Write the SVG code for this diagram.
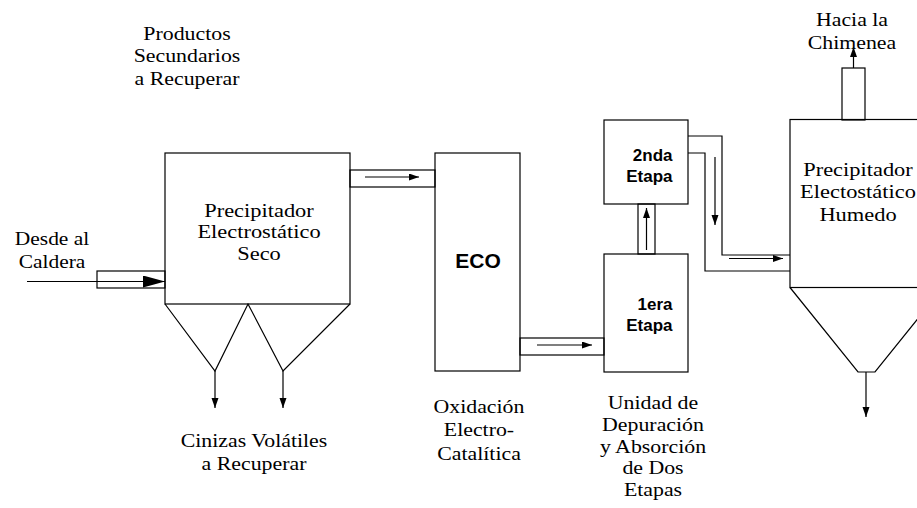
<svg xmlns="http://www.w3.org/2000/svg" width="917" height="508" viewBox="0 0 917 508">
<style>
.s{fill:none;stroke:#000;stroke-width:1.2}
.b{fill:#fff;stroke:#000;stroke-width:1.2}
.t{font-family:"Liberation Serif","Times New Roman",serif;font-size:19.5px;fill:#000;text-anchor:middle}
.h{font-family:"Liberation Sans",Arial,sans-serif;font-weight:bold;fill:#000}
.a{fill:none;stroke:#000;stroke-width:1.2;marker-end:url(#ar)}
</style>
<defs>
<marker id="ar" markerUnits="userSpaceOnUse" markerWidth="11" markerHeight="8" refX="10" refY="3.5" orient="auto"><path d="M0,0 L10,3.5 L0,7 z" fill="#000"/></marker>
<marker id="big" markerUnits="userSpaceOnUse" markerWidth="23" markerHeight="13" refX="22" refY="6" orient="auto"><path d="M0,0 L22,6 L0,12 z" fill="#000"/></marker>
</defs>
<rect width="917" height="508" fill="#fff"/>

<g id="connectors">
  <rect class="b" x="97" y="271" width="68" height="17"/>
  <line x1="27" y1="281.5" x2="165" y2="281.5" stroke="#000" stroke-width="1.2" marker-end="url(#big)"/>
  <rect class="b" x="350" y="170" width="85" height="17"/>
  <line class="a" x1="365" y1="177" x2="419" y2="177"/>
  <rect class="b" x="520" y="338" width="84" height="17"/>
  <line class="a" x1="537" y1="345" x2="592" y2="345"/>
  <rect class="b" x="638" y="204" width="17" height="50"/>
  <line class="a" x1="646.5" y1="250" x2="646.5" y2="208"/>
  <path class="s" d="M688,136 H722 V255 H790 M688,153 H705 V271 H790"/>
  <line class="a" x1="715" y1="157" x2="715" y2="225"/>
  <line class="a" x1="729" y1="258.5" x2="783" y2="258.5"/>
  <line class="a" x1="215" y1="371" x2="215" y2="408"/>
  <line class="a" x1="283" y1="371" x2="283" y2="408"/>
  <rect class="b" x="842" y="68" width="23" height="52"/>
  <line class="a" x1="853.5" y1="68" x2="853.5" y2="47"/>
  <line class="a" x1="866" y1="372" x2="866" y2="417"/>
</g>

<g id="dry-esp">
  <rect class="s" x="165" y="153" width="185" height="151"/>
  <path class="s" d="M165,304 L215,371 L248,304 L283,371 L350,304"/>
  <g transform="translate(259 0) scale(1.15 1)">
    <text class="t" x="0" y="217">Precipitador</text>
    <text class="t" x="0" y="238.5">Electrostático</text>
    <text class="t" x="0" y="260">Seco</text>
  </g>
</g>

<g id="eco">
  <rect class="s" x="435" y="153" width="85" height="218"/>
  <text class="h" x="478" y="268" font-size="21" text-anchor="middle">ECO</text>
</g>

<g id="stage2">
  <rect class="s" x="604" y="120" width="84" height="84"/>
  <text class="h" x="672.5" y="161" font-size="17" text-anchor="end">2nda</text>
  <text class="h" x="672.5" y="182" font-size="17" text-anchor="end">Etapa</text>
</g>

<g id="stage1">
  <rect class="s" x="604" y="254" width="84" height="118"/>
  <text class="h" x="672.5" y="310" font-size="17" text-anchor="end">1era</text>
  <text class="h" x="672.5" y="331" font-size="17" text-anchor="end">Etapa</text>
</g>

<g id="wet-esp">
  <rect class="s" x="790" y="119.5" width="153" height="168"/>
  <path class="s" d="M790,287.5 L858,372 L875,372 L943,287.5"/>
  <g transform="translate(858 0) scale(1.15 1)">
    <text class="t" x="0" y="176">Precipitador</text>
    <text class="t" x="0" y="198">Electostático</text>
    <text class="t" x="0" y="221">Humedo</text>
  </g>
</g>

<g id="labels">
  <g transform="translate(52 0) scale(1.1 1)">
    <text class="t" x="0" y="245">Desde al</text>
    <text class="t" x="0" y="268">Caldera</text>
  </g>
  <g transform="translate(187 0) scale(1.12 1)">
    <text class="t" x="0" y="40">Productos</text>
    <text class="t" x="0" y="62.5">Secundarios</text>
    <text class="t" x="0" y="85">a Recuperar</text>
  </g>
  <g transform="translate(254 0) scale(1.12 1)">
    <text class="t" x="0" y="447">Cinizas Volátiles</text>
    <text class="t" x="0" y="470">a Recuperar</text>
  </g>
  <g transform="translate(479 0) scale(1.12 1)">
    <text class="t" x="0" y="413">Oxidación</text>
    <text class="t" x="0" y="436.5">Electro-</text>
    <text class="t" x="0" y="460">Catalítica</text>
  </g>
  <g transform="translate(653 0) scale(1.12 1)">
    <text class="t" x="0" y="409">Unidad de</text>
    <text class="t" x="0" y="431">Depuración</text>
    <text class="t" x="0" y="453">y Absorción</text>
    <text class="t" x="0" y="474.5">de Dos</text>
    <text class="t" x="0" y="496">Etapas</text>
  </g>
  <g transform="translate(852 0) scale(1.12 1)">
    <text class="t" x="0" y="26">Hacia la</text>
    <text class="t" x="0" y="49.5">Chimenea</text>
  </g>
</g>
</svg>
